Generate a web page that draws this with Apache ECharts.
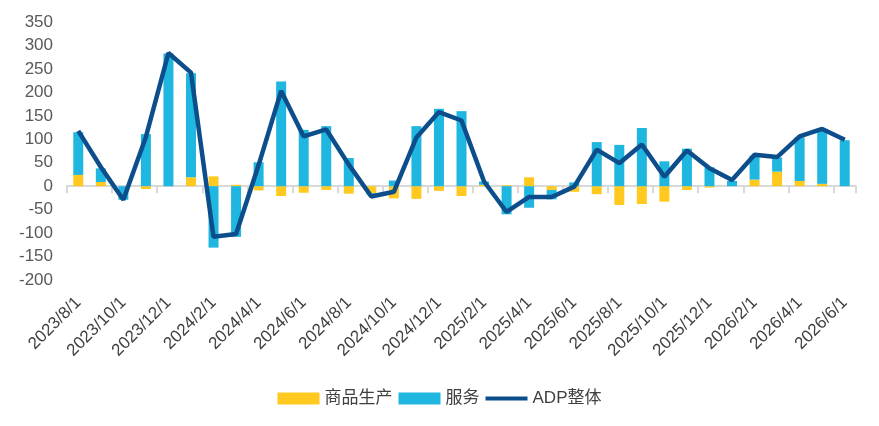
<!DOCTYPE html>
<html>
<head>
<meta charset="utf-8">
<script src="https://cdn.jsdelivr.net/npm/echarts@6/dist/echarts.min.js"></script>
<style>
  html, body { margin: 0; padding: 0; background: #fff; }
  #main { width: 879px; height: 426px; }
</style>
</head>
<body>
<div id="main"></div>
<script>
const months = [
  "2023/8/1", "2023/9/1", "2023/10/1", "2023/11/1", "2023/12/1",
  "2024/1/1", "2024/2/1", "2024/3/1", "2024/4/1", "2024/5/1", "2024/6/1",
  "2024/7/1", "2024/8/1", "2024/9/1", "2024/10/1", "2024/11/1", "2024/12/1",
  "2025/1/1", "2025/2/1", "2025/3/1", "2025/4/1", "2025/5/1", "2025/6/1",
  "2025/7/1", "2025/8/1", "2025/9/1", "2025/10/1", "2025/11/1", "2025/12/1",
  "2026/1/1", "2026/2/1", "2026/3/1", "2026/4/1", "2026/5/1", "2026/6/1"
];

// 商品生产
const goods = [
  24, 9, 0, -6, 0, 19, 21, 3, -9, -21, -14, -8, -16, -15, -26, -27, -10,
  -21, 3, 2, 19, -8, -12, -17, -40, -38, -33, -8, -3, 0, 14, 31, 11, 5, 0
];

// 服务
const services = [
  91, 29, -29, 111, 283, 222, -131, -108, 51, 223, 120, 128, 60, -3, 12, 128, 165,
  160, 7, -60, -46, -20, 8, 94, 88, 124, 53, 80, 40, 11, 51, 30, 93, 116, 98
];

// ADP整体
const adpTotal = [
  118, 41, -29, 105, 284, 242, -108, -102, 45, 203, 106, 121, 46, -22, -12, 104, 158,
  140, 10, -55, -23, -23, -1, 78, 49, 89, 20, 76, 38, 13, 67, 62, 106, 122, 99
];

const chartDom = document.getElementById("main");
const myChart = echarts.init(chartDom);

const baseFont = "Liberation Sans, Arial, Noto Sans CJK SC, sans-serif";

const option = {
  animation: false,
  textStyle: { fontFamily: baseFont },
  grid: { left: 67, right: 23, top: 22, bottom: 146, containLabel: false },
  legend: {
    bottom: 14,
    left: "center",
    itemGap: 6,
    itemWidth: 42,
    itemHeight: 12,
    textStyle: { fontSize: 17, color: "#404040", fontFamily: baseFont },
    data: [
      { name: "商品生产", icon: "rect" },
      { name: "服务", icon: "rect" },
      { name: "ADP整体", icon: "path://M0,0 L42,0 L42,4 L0,4 Z" }
    ]
  },
  xAxis: [
    {
      type: "category",
      data: months,
      position: "bottom",
      axisLine: { show: false, onZero: false },
      axisTick: { show: false },
      axisLabel: {
        interval: 1,
        rotate: 45,
        margin: 20,
        fontSize: 17,
        color: "#404040",
        fontFamily: baseFont
      }
    },
    {
      type: "category",
      data: months,
      position: "bottom",
      axisLine: { show: true, onZero: true, lineStyle: { color: "#d9d9d9", width: 2 } },
      axisTick: { show: true, interval: 1, length: 7, lineStyle: { color: "#d9d9d9", width: 2 } },
      axisLabel: { show: false }
    }
  ],
  yAxis: {
    type: "value",
    min: -200,
    max: 350,
    interval: 50,
    axisLine: { show: false },
    axisTick: { show: false },
    splitLine: { show: false },
    axisLabel: { fontSize: 17, color: "#595959", margin: 14, fontFamily: baseFont }
  },
  series: [
    {
      name: "商品生产",
      type: "bar",
      stack: "total",
      barWidth: 10,
      itemStyle: { color: "#FFC91F" },
      data: goods
    },
    {
      name: "服务",
      type: "bar",
      stack: "total",
      barWidth: 10,
      itemStyle: { color: "#1FB7E0" },
      data: services
    },
    {
      name: "ADP整体",
      type: "line",
      symbol: "none",
      z: 5,
      lineStyle: { color: "#0C4E8C", width: 4.5 },
      itemStyle: { color: "#0C4E8C" },
      data: adpTotal
    }
  ]
};

option && myChart.setOption(option);
</script>
</body>
</html>
